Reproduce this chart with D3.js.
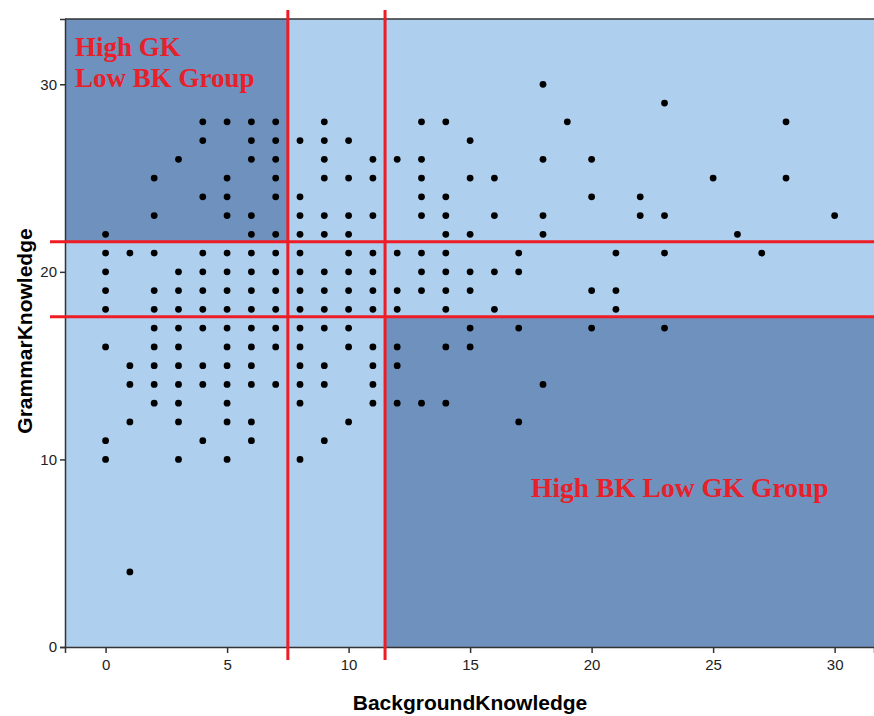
<!DOCTYPE html>
<meta charset="utf-8">
<style>
body { margin:0; background:#fff; }
.tick text { font-family:"Liberation Sans", Arial, sans-serif; font-size:15px; fill:#222; }
.axis-title { font-family:"Liberation Sans", Arial, sans-serif; font-size:21px; font-weight:bold; text-anchor:middle; }
.group-label { font-family:"Liberation Serif", "Times New Roman", serif; font-size:27px; font-weight:bold; fill:#e8202a; }
</style>
<body>
<script src="https://d3js.org/d3.v7.min.js"></script>
<script>

// GrammarKnowledge score for each row of dots
var gkLevels = [30, 29, 28, 27, 26, 25, 24, 23, 22, 21, 20, 19, 18, 17, 16, 15, 14, 13, 12, 11, 10, 4];
// BackgroundKnowledge scores seen at that GK level
var bkAtLevel = [
  [18],
  [23],
  [4,5,6,7,9,13,14,19,28],
  [4,6,7,8,9,10,15],
  [3,6,7,9,11,12,13,18,20],
  [2,5,7,9,10,11,13,15,16,25,28],
  [4,5,7,8,13,14,20,22],
  [2,5,6,8,9,10,11,13,14,16,18,22,23,30],
  [0,6,7,8,9,10,14,15,18,26],
  [0,1,2,4,5,6,7,8,10,11,12,13,14,17,21,23,27],
  [0,3,4,5,6,7,8,9,10,11,13,14,15,16,17],
  [0,2,3,4,5,6,7,8,9,10,11,12,13,14,15,20,21],
  [0,2,3,4,5,6,7,8,9,10,11,12,14,16,21],
  [2,3,4,5,6,7,8,9,10,15,17,20,23],
  [0,2,3,5,6,7,8,10,11,12,14,15],
  [1,2,3,4,5,6,8,9,11,12],
  [1,2,3,4,5,6,7,8,9,11,18],
  [2,3,5,8,11,12,13,14],
  [1,3,5,6,10,17],
  [0,4,6,9],
  [0,3,5,8],
  [1]
];
var xTicks = [0, 5, 10, 15, 20, 25, 30];
var yTicks = [0, 10, 20, 30];
// cut points for the groups
var bkCuts = [7.5, 11.5];
var gkCuts = [17.6, 21.6];

var points = [];
gkLevels.forEach(function(gk, i){
  bkAtLevel[i].forEach(function(bk){ points.push({bk:bk, gk:gk}); });
});

var W = 874, H = 716;
var pLeft = 65, pRight = 874, pTop = 19, pBottom = 647;

var svg = d3.select("body").append("svg").attr("width", W).attr("height", H);

var x = d3.scaleLinear().domain([-1.67, 31.62]).range([pLeft, pRight]);
var y = d3.scaleLinear().domain([0, 33.48]).range([pBottom, pTop]);

// background: light, with two dark quadrants
svg.append("rect").attr("x", pLeft).attr("y", pTop)
  .attr("width", pRight-pLeft).attr("height", pBottom-pTop).attr("fill", "#aecfee");
svg.append("rect").attr("x", pLeft).attr("y", pTop)
  .attr("width", x(bkCuts[0])-pLeft).attr("height", y(gkCuts[1])-pTop).attr("fill", "#6f91be");
svg.append("rect").attr("x", x(bkCuts[1])).attr("y", y(gkCuts[0]))
  .attr("width", pRight-x(bkCuts[1])).attr("height", pBottom-y(gkCuts[0])).attr("fill", "#6f91be");

// frame
svg.append("line").attr("x1", pLeft).attr("x2", pRight).attr("y1", pTop).attr("y2", pTop)
  .attr("stroke", "#333").attr("stroke-width", 1.5);

// points
svg.append("g").selectAll("circle").data(points).enter().append("circle")
  .attr("cx", d=>x(d.bk)).attr("cy", d=>y(d.gk)).attr("r", 3.4).attr("fill", "#000");

// axes
var xAxis = svg.append("g").attr("transform", "translate(0," + pBottom + ")")
  .call(d3.axisBottom(x).tickValues(xTicks).tickSize(6).tickPadding(6));
var yAxis = svg.append("g").attr("transform", "translate(" + pLeft + ",0)")
  .call(d3.axisLeft(y).tickValues(yTicks).tickSize(5).tickPadding(3));
[xAxis, yAxis].forEach(function(a){
  a.select(".domain").attr("stroke", "#333").attr("stroke-width", 1.5);
  a.selectAll(".tick line").attr("stroke", "#333").attr("stroke-width", 1.5);
});

// red cut lines
svg.append("g").selectAll("line").data(bkCuts).enter().append("line")
  .attr("x1", d=>x(d)).attr("x2", d=>x(d)).attr("y1", 10).attr("y2", 660)
  .attr("stroke", "#ee1c25").attr("stroke-width", 3);
svg.append("g").selectAll("line").data(gkCuts).enter().append("line")
  .attr("x1", 50).attr("x2", pRight).attr("y1", d=>y(d)).attr("y2", d=>y(d))
  .attr("stroke", "#ee1c25").attr("stroke-width", 3);

// group labels
svg.append("text").attr("class", "group-label").attr("x", 75).attr("y", 56).text("High GK");
svg.append("text").attr("class", "group-label").attr("x", 75).attr("y", 87).text("Low BK Group");
svg.append("text").attr("class", "group-label").attr("x", 531).attr("y", 497)
  .style("font-size", "27.5px").text("High BK Low GK Group");

// axis titles
svg.append("text").attr("class", "axis-title").attr("x", 470).attr("y", 710).text("BackgroundKnowledge");
svg.append("text").attr("class", "axis-title")
  .attr("transform", "translate(32,331) rotate(-90)").text("GrammarKnowledge");

</script>
</body>
